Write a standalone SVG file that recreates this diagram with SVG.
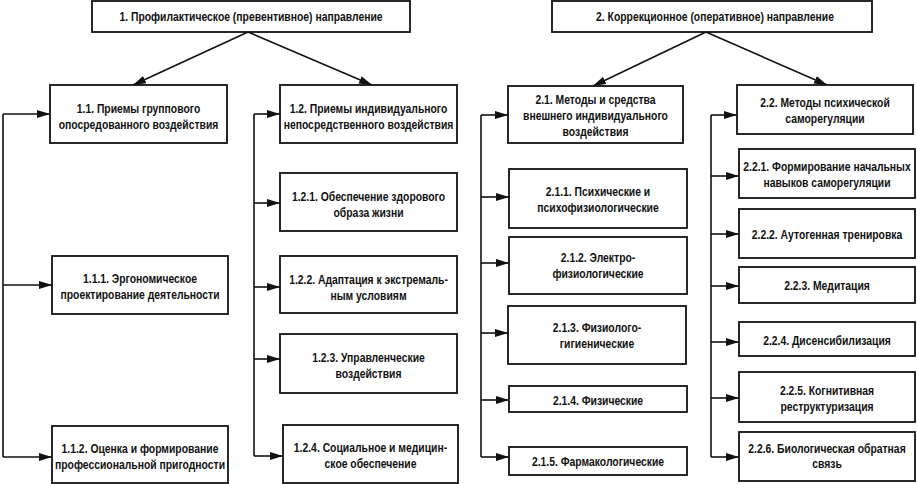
<svg xmlns="http://www.w3.org/2000/svg" width="917" height="484" viewBox="0 0 917 484">
<style>
rect{fill:#fff;stroke:#111;stroke-width:1.8}
text{font-family:"Liberation Sans",Arial,sans-serif;font-weight:bold;font-size:12.5px;fill:#111;text-anchor:middle}
.c path{fill:none;stroke:#111;stroke-width:1.6}
.c .a{marker-end:url(#ah)}
</style>
<defs>
<marker id="ah" markerUnits="userSpaceOnUse" markerWidth="14" markerHeight="9" refX="13" refY="4" orient="auto">
<path d="M0,0 L13,4 L0,8 z" fill="#111"/>
</marker>
</defs>
<rect x="0" y="0" width="917" height="484" style="fill:#fff;stroke:none"/>
<g class="c" id="connectors">
<path class="a" d="M248,32 L133,85"/>
<path class="a" d="M248,32 L372,85"/>
<path class="a" d="M706,32 L593,86"/>
<path class="a" d="M706,32 L827,85"/>
<path d="M3,114 V457"/>
<path class="a" d="M3,114 H50"/>
<path class="a" d="M3,285 H52"/>
<path class="a" d="M3,457 H52"/>
<path d="M254,114 V456"/>
<path class="a" d="M254,114 H280"/>
<path class="a" d="M254,203 H280"/>
<path class="a" d="M254,287 H280"/>
<path class="a" d="M254,359 H280"/>
<path class="a" d="M254,456 H283"/>
<path d="M481,115 V457"/>
<path class="a" d="M481,115 H508"/>
<path class="a" d="M481,197 H509"/>
<path class="a" d="M481,263 H509"/>
<path class="a" d="M481,333 H508"/>
<path class="a" d="M481,400 H509"/>
<path class="a" d="M481,457 H509"/>
<path d="M711,115 V457"/>
<path class="a" d="M711,115 H737"/>
<path class="a" d="M711,176 H739"/>
<path class="a" d="M711,234 H739"/>
<path class="a" d="M711,286 H739"/>
<path class="a" d="M711,342 H739"/>
<path class="a" d="M711,398 H739"/>
<path class="a" d="M711,457 H739"/>
</g>
<g id="n1"><rect x="92" y="1" width="318" height="31"/>
<text transform="translate(251,0) scale(0.83,1)" y="21">1. Профилактическое (превентивное) направление</text></g>
<g id="n2"><rect x="552" y="1" width="320" height="31"/>
<text transform="translate(715,0) scale(0.83,1)" y="21">2. Коррекционное (оперативное) направление</text></g>
<g id="n11"><rect x="50" y="85" width="177" height="58"/>
<text transform="translate(138.5,0) scale(0.83,1)"><tspan x="0" y="113">1.1. Приемы группового</tspan><tspan x="0" y="129">опосредованного воздействия</tspan></text></g>
<g id="n12"><rect x="280" y="85" width="177" height="58"/>
<text transform="translate(368.5,0) scale(0.83,1)"><tspan x="0" y="113">1.2. Приемы индивидуального</tspan><tspan x="0" y="129">непосредственного воздействия</tspan></text></g>
<g id="n111"><rect x="52" y="256" width="176" height="58"/>
<text transform="translate(140,0) scale(0.83,1)"><tspan x="0" y="283">1.1.1. Эргономическое</tspan><tspan x="0" y="299">проектирование деятельности</tspan></text></g>
<g id="n112"><rect x="52" y="426" width="176" height="57"/>
<text transform="translate(140,0) scale(0.83,1)"><tspan x="0" y="453">1.1.2. Оценка и формирование</tspan><tspan x="0" y="469">профессиональной пригодности</tspan></text></g>
<g id="n121"><rect x="280" y="173" width="177" height="58"/>
<text transform="translate(368.5,0) scale(0.83,1)"><tspan x="0" y="201">1.2.1. Обеспечение здорового</tspan><tspan x="0" y="217">образа жизни</tspan></text></g>
<g id="n122"><rect x="280" y="256" width="177" height="57"/>
<text transform="translate(368.5,0) scale(0.83,1)"><tspan x="0" y="284">1.2.2. Адаптация к экстремаль-</tspan><tspan x="0" y="300">ным условиям</tspan></text></g>
<g id="n123"><rect x="280" y="334" width="177" height="59"/>
<text transform="translate(368.5,0) scale(0.83,1)"><tspan x="0" y="362">1.2.3. Управленческие</tspan><tspan x="0" y="378">воздействия</tspan></text></g>
<g id="n124"><rect x="283" y="425" width="175" height="58"/>
<text transform="translate(370.5,0) scale(0.83,1)"><tspan x="0" y="452">1.2.4. Социальное и медицин-</tspan><tspan x="0" y="468">ское обеспечение</tspan></text></g>
<g id="n21"><rect x="508" y="86" width="175" height="57"/>
<text transform="translate(595.5,0) scale(0.83,1)"><tspan x="0" y="104">2.1. Методы и средства</tspan><tspan x="0" y="120">внешнего индивидуального</tspan><tspan x="0" y="136">воздействия</tspan></text></g>
<g id="n22"><rect x="737" y="85" width="176" height="49"/>
<text transform="translate(825,0) scale(0.83,1)"><tspan x="0" y="107">2.2. Методы психической</tspan><tspan x="0" y="123">саморегуляции</tspan></text></g>
<g id="n211"><rect x="509" y="169" width="178" height="59"/>
<text transform="translate(598,0) scale(0.83,1)"><tspan x="0" y="196">2.1.1. Психические и</tspan><tspan x="0" y="212">психофизиологические</tspan></text></g>
<g id="n212"><rect x="509" y="237" width="178" height="57"/>
<text transform="translate(598,0) scale(0.83,1)"><tspan x="0" y="262">2.1.2. Электро-</tspan><tspan x="0" y="278">физиологические</tspan></text></g>
<g id="n213"><rect x="508" y="306" width="178" height="58"/>
<text transform="translate(597,0) scale(0.83,1)"><tspan x="0" y="332">2.1.3. Физиолого-</tspan><tspan x="0" y="348">гигиенические</tspan></text></g>
<g id="n214"><rect x="509" y="386" width="178" height="26"/>
<text transform="translate(598,0) scale(0.83,1)" y="405">2.1.4. Физические</text></g>
<g id="n215"><rect x="509" y="447" width="178" height="28"/>
<text transform="translate(598,0) scale(0.83,1)" y="466">2.1.5. Фармакологические</text></g>
<g id="n221"><rect x="739" y="149" width="176" height="49"/>
<text transform="translate(827,0) scale(0.83,1)"><tspan x="0" y="171">2.2.1. Формирование начальных</tspan><tspan x="0" y="187">навыков саморегуляции</tspan></text></g>
<g id="n222"><rect x="739" y="209" width="176" height="49"/>
<text transform="translate(827,0) scale(0.83,1)" y="239">2.2.2. Аутогенная тренировка</text></g>
<g id="n223"><rect x="739" y="267" width="176" height="36"/>
<text transform="translate(827,0) scale(0.83,1)" y="290">2.2.3. Медитация</text></g>
<g id="n224"><rect x="739" y="322" width="176" height="34"/>
<text transform="translate(827,0) scale(0.83,1)" y="345">2.2.4. Дисенсибилизация</text></g>
<g id="n225"><rect x="739" y="372" width="176" height="50"/>
<text transform="translate(827,0) scale(0.83,1)"><tspan x="0" y="395">2.2.5. Когнитивная</tspan><tspan x="0" y="411">реструктуризация</tspan></text></g>
<g id="n226"><rect x="739" y="432" width="176" height="49"/>
<text transform="translate(827,0) scale(0.83,1)"><tspan x="0" y="453">2.2.6. Биологическая обратная</tspan><tspan x="0" y="468">связь</tspan></text></g>
</svg>
